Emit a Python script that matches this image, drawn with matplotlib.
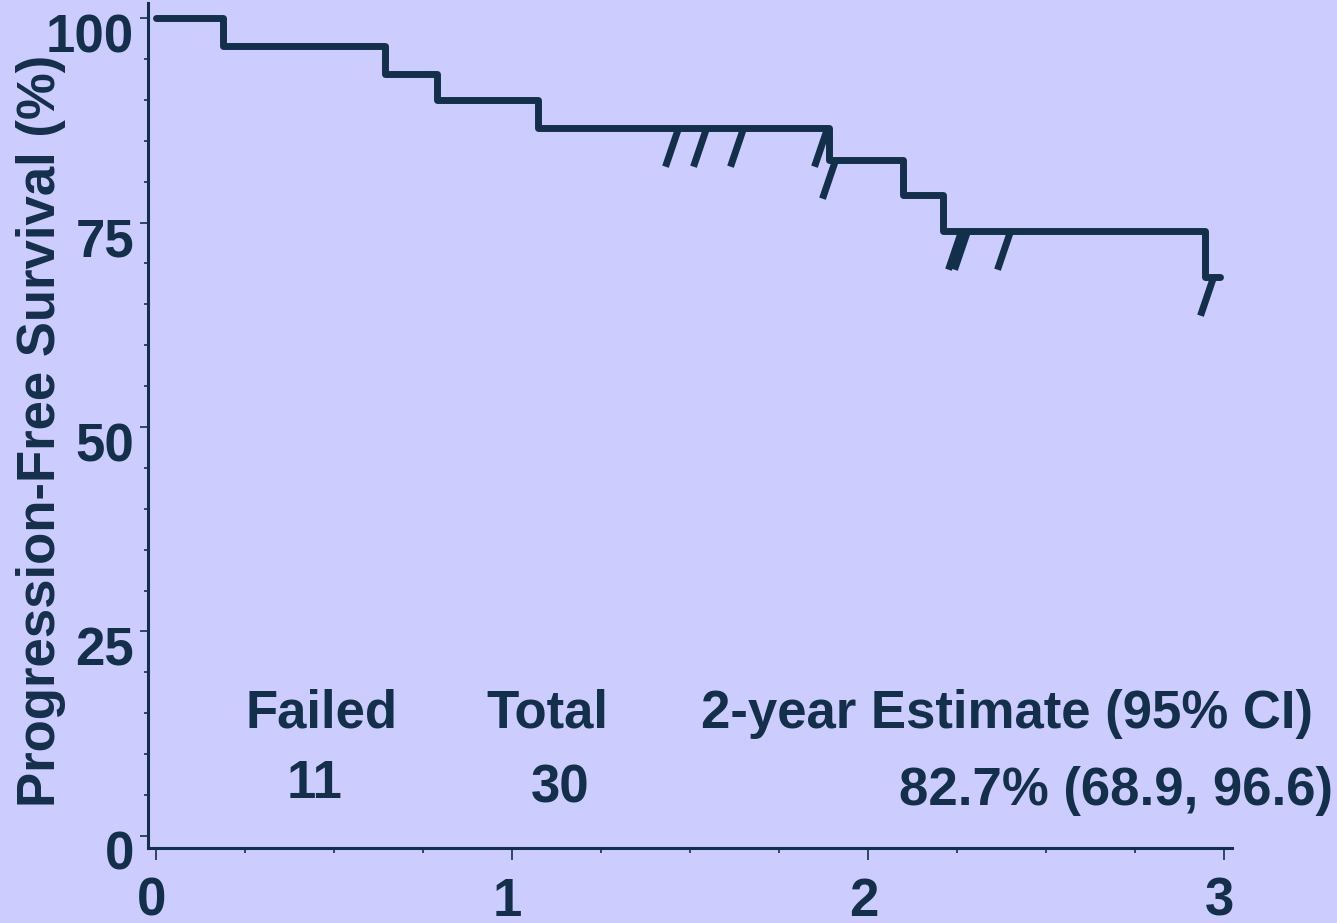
import numpy as np
import matplotlib
matplotlib.use('Agg')
import matplotlib.pyplot as plt
from matplotlib.transforms import ScaledTranslation

# Kaplan-Meier style progression-free survival curve
event_times = [0.188, 0.644, 0.789, 1.074, 1.892, 2.100, 2.212, 2.948]
surv_start = 100.0
surv_after = [96.6, 93.2, 90.0, 86.6, 82.6, 78.4, 74.0, 68.3]
end_time = 2.99
censor_times = [1.468, 1.546, 1.651, 1.885, 1.908, 2.262, 2.279, 2.400, 2.970]

x_ticks = [0, 1, 2, 3]
y_ticks = [0, 25, 50, 75, 100]
y_label = "Progression-Free Survival (%)"

head_failed, head_total, head_est = "Failed", "Total", "2-year Estimate (95% CI)"
n_failed, n_total, est_text = "11", "30", "82.7% (68.9, 96.6)"

navy = "#13304a"
bg = "#ccccff"

plt.rcParams['font.family'] = ['Liberation Sans', 'DejaVu Sans']
plt.rcParams['font.weight'] = 'bold'
plt.rcParams['ytick.alignment'] = 'top'

fig = plt.figure(figsize=(13.37, 9.23), dpi=100, facecolor=bg)
ax = fig.add_axes([0.1105, 0.0813, 0.811, 0.915], facecolor=bg)

# step curve
xs = np.r_[0.0, event_times, end_time]
ys = np.r_[surv_start, surv_after, surv_after[-1]]
ln, = ax.step(xs, ys, where='post', color=navy, lw=5)
ln.set_solid_capstyle('round')
ln.set_solid_joinstyle('round')

# censor marks: slanted strokes hanging below the curve
idx = np.searchsorted(event_times, censor_times, side='right')
cens_y = np.r_[surv_start, surv_after][idx]
slash = [(0, 0), (-0.34, -1)]
ax.plot(censor_times, cens_y, ls='none', marker=slash, markersize=55,
        markeredgewidth=5, markeredgecolor=navy, markerfacecolor='none')

ax.set_xlim(-0.0228, 3.024)
ax.set_ylim(-1.47, 101.8)

for s in ['top', 'right']:
    ax.spines[s].set_visible(False)
for s in ['left', 'bottom']:
    ax.spines[s].set_linewidth(2.2)
    ax.spines[s].set_color(navy)

ax.set_xticks(x_ticks)
ax.set_xticks(np.arange(0, 3.01, 0.25), minor=True)
ax.set_yticks(y_ticks)
ax.set_yticks(np.arange(0, 101, 5), minor=True)
ax.set_xticklabels([str(v) for v in x_ticks])
ax.set_yticklabels([str(v) for v in y_ticks])
ax.tick_params(axis='x', which='major', length=8.6, width=1.2, color=navy,
               labelsize=38, labelcolor=navy, pad=12)
ax.tick_params(axis='x', which='minor', length=3.6, width=1.2, color=navy)
ax.tick_params(axis='y', which='major', length=5.8, width=1.2, color=navy,
               labelsize=38, labelcolor=navy, pad=4)
ax.tick_params(axis='y', which='minor', length=2.9, width=1.2, color=navy)

# nudge tick labels like the original slide
up = ScaledTranslation(0, 0.05, fig.dpi_scale_trans)
left = ScaledTranslation(-0.04, 0, fig.dpi_scale_trans)
for t in ax.yaxis.get_major_ticks():
    t.label1.set_transform(t.label1.get_transform() + up)
for t in ax.xaxis.get_major_ticks():
    t.label1.set_transform(t.label1.get_transform() + left)

ax.set_ylabel(y_label, fontsize=38, color=navy, fontweight='bold')
ax.yaxis.set_label_coords(-0.0753, 0.494)

# summary table
kw = dict(fontsize=38, color=navy, fontweight='bold', va='baseline')
ax.text(0.466, 13.2, head_failed, ha='center', **kw)
ax.text(1.100, 13.2, head_total, ha='center', **kw)
ax.text(2.392, 13.2, head_est, ha='center', **kw)
ax.text(0.447, 4.65, n_failed, ha='center', **kw)
ax.text(1.136, 4.03, n_total, ha='center', **kw)
ax.text(3.308, 3.8, est_text, ha='right', **kw)

fig.savefig("out.png", dpi=100, facecolor=bg)
